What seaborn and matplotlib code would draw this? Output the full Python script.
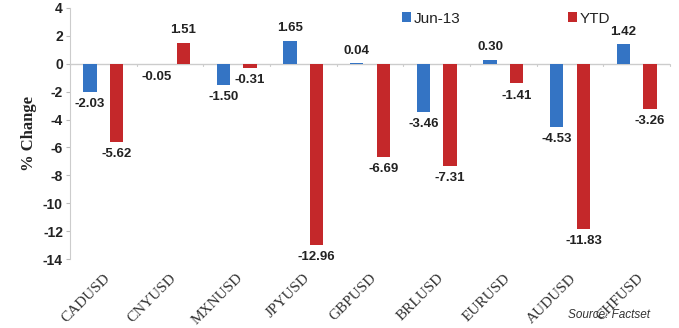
import matplotlib
matplotlib.use("Agg")
import matplotlib.pyplot as plt
import seaborn as sns
import pandas as pd

categories = ["CADUSD", "CNYUSD", "MXNUSD", "JPYUSD", "GBPUSD", "BRLUSD", "EURUSD", "AUDUSD", "CHFUSD"]
jun13 = [-2.03, -0.05, -1.50, 1.65, 0.04, -3.46, 0.30, -4.53, 1.42]
ytd = [-5.62, 1.51, -0.31, -12.96, -6.69, -7.31, -1.41, -11.83, -3.26]
series_names = ["Jun-13", "YTD"]
yticks = [4, 2, 0, -2, -4, -6, -8, -10, -12, -14]

df = pd.DataFrame({
    "Pair": categories * 2,
    "Series": [series_names[0]] * len(categories) + [series_names[1]] * len(categories),
    "Value": jun13 + ytd,
})

sns.set_style("white")
fig = plt.figure(figsize=(6.79, 3.28), dpi=100)
ax = fig.add_axes([0.103, 0.21, 0.884, 0.766])

palette = {"Jun-13": "#3474C4", "YTD": "#C4282A"}
sns.barplot(data=df, x="Pair", y="Value", hue="Series", order=categories,
            hue_order=series_names, palette=palette, width=0.8, gap=0.5,
            ax=ax, saturation=1, edgecolor="none")

ax.set_ylim(-14, 4)
ax.set_xlim(-0.5, len(categories) - 0.5)
ax.set_yticks(yticks)
ax.set_yticklabels([str(v) for v in yticks], fontsize=10, fontweight="bold",
                   family="Liberation Sans", color="#222222")
ax.tick_params(axis="y", length=3, color="#bbbbbb", pad=2, left=True)
ax.set_xticks(range(len(categories)))
ax.set_xticklabels(categories, rotation=45, ha="right", rotation_mode="anchor",
                   fontsize=11, family="Liberation Serif", color="#333333")
ax.tick_params(axis="x", length=0, pad=9)
ax.set_xlabel("")
ax.set_ylabel("% Change", fontsize=12, fontweight="bold", family="Liberation Serif",
              color="#222222", labelpad=4)

for s in ["top", "right", "bottom"]:
    ax.spines[s].set_visible(False)
ax.spines["left"].set_color("#cccccc")
ax.spines["left"].set_linewidth(0.8)

ax.axhline(0, color="#cccccc", lw=1, zorder=0)
for b in range(len(categories) + 1):
    ax.plot([b - 0.5, b - 0.5], [0, -0.15], color="#cccccc", lw=0.8, clip_on=False)

# data labels
for cont, vals in zip(ax.containers, [jun13, ytd]):
    for bar, v in zip(cont, vals):
        x = bar.get_x() + bar.get_width() / 2
        if v >= 0:
            ax.text(x, v + 0.45, f"{v:.2f}", ha="center", va="bottom", fontsize=9.5,
                    fontweight="bold", family="Liberation Sans", color="#222222")
        else:
            ax.text(x, v - 0.45, f"{v:.2f}", ha="center", va="top", fontsize=9.5,
                    fontweight="bold", family="Liberation Sans", color="#222222")

leg = ax.legend(loc="upper left", bbox_to_anchor=(0.53, 1.04), ncol=2, frameon=False,
                fontsize=11, handlelength=0.6, handleheight=0.6, columnspacing=7,
                handletextpad=0.2)
for t in leg.get_texts():
    t.set_family("Liberation Sans")
    t.set_color("#222222")

fig.text(0.957, 0.02, "Source: Factset", ha="right", va="bottom", fontsize=8.5,
         style="italic", family="Liberation Sans", color="#333333")

fig.savefig("out.png", dpi=100)
